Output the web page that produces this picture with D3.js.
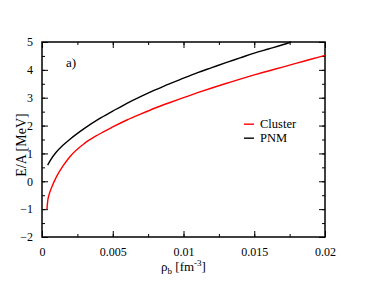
<!DOCTYPE html>
<html>
<head>
<meta charset="utf-8">
<script src="https://cdn.jsdelivr.net/npm/d3@7"></script>
<style>
  body { margin: 0; background: #fff; }
</style>
</head>
<body>
<svg id="chart"></svg>
<script>
// densities rho_b [fm^-3] and energies E/A [MeV]
const clusterRho = [0.00035, 0.0004, 0.0005, 0.0007, 0.001, 0.0015, 0.002, 0.003, 0.004, 0.005, 0.006, 0.007, 0.008, 0.009, 0.01, 0.011, 0.012, 0.013, 0.014, 0.015, 0.016, 0.017, 0.018, 0.019, 0.02];
const clusterE = [-1.0, -0.72, -0.48, -0.2, 0.14, 0.56, 0.9, 1.36, 1.68, 1.95, 2.2, 2.42, 2.63, 2.82, 3.0, 3.18, 3.35, 3.51, 3.67, 3.82, 3.96, 4.1, 4.24, 4.38, 4.52];
const pnmRho = [0.0004, 0.0006, 0.001, 0.0015, 0.002, 0.003, 0.004, 0.005, 0.006, 0.007, 0.008, 0.009, 0.01, 0.011, 0.012, 0.013, 0.014, 0.015, 0.016, 0.017, 0.0176];
const pnmE = [0.58, 0.76, 1.04, 1.3, 1.52, 1.9, 2.23, 2.52, 2.8, 3.05, 3.28, 3.5, 3.7, 3.9, 4.08, 4.26, 4.43, 4.6, 4.75, 4.9, 5.0];
const xTicks = [0, 0.005, 0.01, 0.015, 0.02];
const xTickLabels = ['0', '0.005', '0.01', '0.015', '0.02'];
const yTicks = [-2, -1, 0, 1, 2, 3, 4, 5];
const seriesNames = ['Cluster', 'PNM'];
const seriesColors = ['#ff0000', '#000000'];

const font = '"Liberation Serif", "DejaVu Serif", serif';
const width = 366, height = 283;
const margin = {top: 42, right: 41, bottom: 46, left: 42};
const w = width - margin.left - margin.right;
const h = height - margin.top - margin.bottom;

const svg = d3.select('#chart')
  .attr('width', width)
  .attr('height', height)
  .attr('font-family', font);

const chart = svg.append('g')
  .attr('transform', `translate(${margin.left},${margin.top})`);

const x = d3.scaleLinear().domain([0, 0.02]).range([0, w]);
const y = d3.scaleLinear().domain([-2, 5]).range([h, 0]);

const minorX = d3.range(0, 0.0201, 0.0025);
const minorY = d3.range(-2, 5.01, 0.5);

// inward ticks on all four sides
function ticks(g) {
  g.attr('font-family', font);
  g.selectAll('text')
    .style('font-family', font)
    .style('font-size', '12px')
    .style('fill', '#000');
  g.selectAll('line').attr('stroke', '#000');
  g.select('.domain').remove();
}

chart.append('g')
  .attr('transform', `translate(0,${h})`)
  .call(d3.axisBottom(x).tickValues(minorX).tickSize(-3).tickFormat(''))
  .call(ticks);
chart.append('g')
  .attr('transform', `translate(0,${h})`)
  .call(d3.axisBottom(x).tickValues(xTicks).tickSize(-6).tickPadding(10)
    .tickFormat((d, i) => xTickLabels[i]))
  .call(ticks);
chart.append('g')
  .call(d3.axisTop(x).tickValues(minorX).tickSize(-3).tickFormat(''))
  .call(ticks);
chart.append('g')
  .call(d3.axisTop(x).tickValues(xTicks).tickSize(-6).tickFormat(''))
  .call(ticks);

chart.append('g')
  .call(d3.axisLeft(y).tickValues(minorY).tickSize(-3).tickFormat(''))
  .call(ticks);
chart.append('g')
  .call(d3.axisLeft(y).tickValues(yTicks).tickSize(-6).tickPadding(9).tickFormat(d3.format('d')))
  .call(ticks);
chart.append('g')
  .attr('transform', `translate(${w},0)`)
  .call(d3.axisRight(y).tickValues(minorY).tickSize(-3).tickFormat(''))
  .call(ticks);
chart.append('g')
  .attr('transform', `translate(${w},0)`)
  .call(d3.axisRight(y).tickValues(yTicks).tickSize(-6).tickFormat(''))
  .call(ticks);

chart.append('rect')
  .attr('width', w)
  .attr('height', h)
  .attr('fill', 'none')
  .attr('stroke', '#000')
  .attr('stroke-width', 1.5);

const line = d3.line()
  .x(d => x(d[0]))
  .y(d => y(d[1]))
  .curve(d3.curveMonotoneX);

const series = [
  d3.zip(clusterRho, clusterE),
  d3.zip(pnmRho, pnmE)
];

chart.selectAll('.series')
  .data(series)
  .enter()
  .append('path')
  .attr('class', 'series')
  .attr('d', line)
  .attr('fill', 'none')
  .attr('stroke', (d, i) => seriesColors[i])
  .attr('stroke-width', 1.4);

// legend
const legend = chart.append('g')
  .attr('transform', `translate(${w - 81},${y(2.05)})`);
seriesNames.forEach((name, i) => {
  legend.append('line')
    .attr('x1', 0).attr('x2', 10)
    .attr('y1', i * 14).attr('y2', i * 14)
    .attr('stroke', seriesColors[i])
    .attr('stroke-width', 1.4);
  legend.append('text')
    .attr('x', 16)
    .attr('y', i * 14)
    .attr('dy', '0.33em')
    .style('font-family', font)
    .style('font-size', '12.5px')
    .text(name);
});

chart.append('text')
  .attr('x', 24)
  .attr('y', 25)
  .style('font-family', font)
  .style('font-size', '13px')
  .text('a)');

// axis titles
const xt = svg.append('text')
  .attr('x', margin.left + w / 2)
  .attr('y', 271)
  .attr('text-anchor', 'middle')
  .style('font-family', font)
  .style('font-size', '13px');
xt.append('tspan').text('ρ');
xt.append('tspan').attr('dy', 3).style('font-size', '9px').text('b');
xt.append('tspan').attr('dy', -3).text(' [fm');
xt.append('tspan').attr('dy', -5).style('font-size', '9px').text('-3');
xt.append('tspan').attr('dy', 5).text(']');

svg.append('text')
  .attr('transform', 'translate(26,145) rotate(-90)')
  .attr('text-anchor', 'middle')
  .style('font-family', font)
  .style('font-size', '14px')
  .text('E/A [MeV]');
</script>
</body>
</html>
